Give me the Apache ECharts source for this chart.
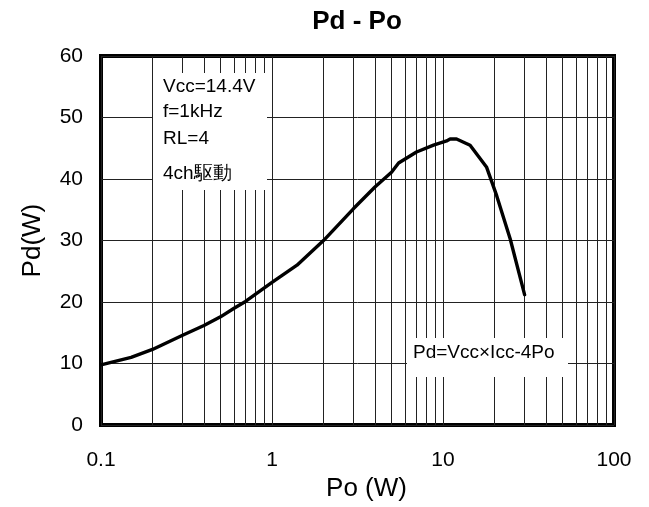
<!DOCTYPE html>
<html>
<head>
<meta charset="utf-8">
<script src="https://cdn.jsdelivr.net/npm/echarts@6/dist/echarts.min.js"></script>
<style>
  html, body { margin: 0; padding: 0; background: #fff; }
  #chart { width: 649px; height: 507px; }
</style>
</head>
<body>
<div id="chart"></div>
<script>
// Output power Po (W) and dissipated power Pd (W)
const poW = [0.1, 0.15, 0.2, 0.3, 0.4, 0.5, 0.6, 0.7, 1, 1.4, 2, 3, 4, 5, 5.5, 7, 8.8, 10.5, 11, 12, 14.4, 18, 20.6, 24.7, 30];
const pdW = [9.8, 11.0, 12.3, 14.6, 16.2, 17.6, 19.0, 20.1, 23.2, 26.0, 30.0, 35.2, 38.7, 41.1, 42.6, 44.4, 45.5, 46.2, 46.5, 46.5, 45.5, 41.9, 37.3, 30.3, 21.2];

// Minor decade grid positions on the log axis
const minorPo = [0.2, 0.3, 0.4, 0.5, 0.6, 0.7, 0.8, 0.9,
                 2, 3, 4, 5, 6, 7, 8, 9,
                 20, 30, 40, 50, 60, 70, 80, 90];

const conditionLines = ['Vcc=14.4V', 'f=1kHz', 'RL=4', '4ch駆動'];
const formulaText = 'Pd=Vcc×Icc-4Po';

const FONT = '"Liberation Sans", Arial, sans-serif';
const gridColor = '#222';

const chart = echarts.init(document.getElementById('chart'), null, { renderer: 'canvas' });

chart.setOption({
  animation: false,
  backgroundColor: '#fff',
  textStyle: { fontFamily: FONT },
  grid: {
    left: 101, top: 56, right: 35, bottom: 79,
    show: true, borderColor: '#000', borderWidth: 4, backgroundColor: 'transparent',
    containLabel: false
  },
  xAxis: {
    type: 'log', logBase: 10, min: 0.1, max: 100,
    name: 'Po (W)', nameLocation: 'middle', nameGap: 45,
    nameTextStyle: { fontSize: 26, color: '#000', fontFamily: FONT, padding: [0, 0, 0, 18] },
    axisLine: { show: false },
    axisTick: { show: false },
    axisLabel: { fontSize: 21, color: '#000', fontFamily: FONT, margin: 25,
      formatter: v => String(v) },
    splitLine: { show: true, lineStyle: { color: gridColor, width: 1 } }
  },
  yAxis: {
    type: 'value', min: 0, max: 60, interval: 10,
    name: 'Pd(W)', nameLocation: 'middle', nameGap: 55,
    nameTextStyle: { fontSize: 26, color: '#000', fontFamily: FONT },
    axisLine: { show: false },
    axisTick: { show: false },
    axisLabel: { fontSize: 21, color: '#000', fontFamily: FONT, margin: 18 },
    splitLine: { show: true, lineStyle: { color: gridColor, width: 1 } }
  },
  series: [{
    type: 'line',
    data: poW.map((x, i) => [x, pdW[i]]),
    showSymbol: false,
    smooth: false,
    lineStyle: { color: '#000', width: 3.4, join: 'round', cap: 'round' },
    z: 3,
    markLine: {
      silent: true,
      symbol: 'none',
      label: { show: false },
      lineStyle: { color: gridColor, width: 1, type: 'solid' },
      data: minorPo.map(v => ({ xAxis: v })),
      z: 1
    }
  }],
  graphic: [
    {
      type: 'text', x: 357, y: 22, z: 100,
      style: { text: 'Pd - Po', font: 'bold 26px ' + FONT, fill: '#000',
        textAlign: 'center', textVerticalAlign: 'middle' }
    },
    {
      type: 'rect', z: 50,
      shape: { x: 153, y: 73, width: 114, height: 117 },
      style: { fill: '#fff' }
    },
    ...conditionLines.map((t, i) => ({
      type: 'text', z: 60,
      x: 163, y: [87, 112, 139, 174][i],
      style: { text: t, font: '19px ' + FONT, fill: '#000', textVerticalAlign: 'middle' }
    })),
    {
      type: 'rect', z: 50,
      shape: { x: 407, y: 338, width: 161, height: 39 },
      style: { fill: '#fff' }
    },
    {
      type: 'text', z: 60, x: 413, y: 353,
      style: { text: formulaText, font: '19px ' + FONT, fill: '#000', textVerticalAlign: 'middle' }
    }
  ]
});
</script>
</body>
</html>
